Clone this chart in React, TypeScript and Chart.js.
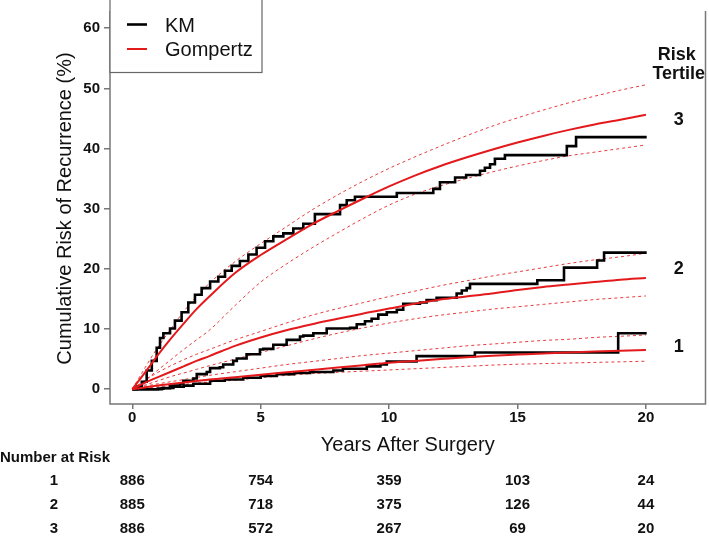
import React, { useEffect, useRef } from 'react';
import { Chart, registerables } from 'chart.js';

Chart.register(...registerables);

const FONT = '"Liberation Sans", Arial, Helvetica, sans-serif';
const RED = '#e3191c';
const RED_DASH = 'rgba(227,25,28,0.85)';
const AXIS = '#777777';

// Gompertz fit curves and 95% CI, read at these years
const fitYears = [0, 0.5, 1, 1.5, 2, 2.5, 3, 4, 5, 6, 7, 8, 9, 10, 11, 12, 13, 14, 15, 16, 17, 18, 19, 20];
const gompertz1 = [0, 0.3, 0.6, 0.85, 1.1, 1.35, 1.6, 2.0, 2.4, 2.8, 3.2, 3.6, 4.0, 4.4, 4.7, 5.0, 5.3, 5.55, 5.75, 5.95, 6.1, 6.25, 6.4, 6.5];
const upper1 = [0, 0.5, 0.9, 1.25, 1.6, 1.95, 2.3, 2.9, 3.5, 4.1, 4.6, 5.1, 5.6, 6.0, 6.4, 6.8, 7.2, 7.5, 7.8, 8.1, 8.3, 8.6, 8.8, 9.0];
const lower1 = [0, 0.2, 0.4, 0.6, 0.8, 1.0, 1.2, 1.5, 1.9, 2.3, 2.6, 2.8, 3.0, 3.2, 3.4, 3.6, 3.8, 4.0, 4.15, 4.25, 4.35, 4.45, 4.55, 4.65];
const gompertz2 = [0, 1.1, 2.0, 2.9, 3.8, 4.7, 5.5, 7.2, 8.6, 9.8, 10.8, 11.7, 12.6, 13.4, 14.2, 14.9, 15.4, 15.9, 16.5, 17.0, 17.4, 17.8, 18.2, 18.5];
const upper2 = [0, 1.5, 2.8, 3.9, 4.9, 5.8, 6.6, 8.2, 9.6, 11.0, 12.3, 13.4, 14.4, 15.4, 16.3, 17.2, 18.0, 18.8, 19.5, 20.2, 20.9, 21.5, 22.0, 22.6];
const lower2 = [0, 0.7, 1.4, 2.1, 2.7, 3.3, 3.9, 5.0, 6.1, 7.2, 8.3, 9.3, 10.2, 11.0, 11.7, 12.3, 12.8, 13.3, 13.7, 14.1, 14.5, 14.9, 15.2, 15.5];
const gompertz3 = [0, 2.8, 5.7, 8.4, 10.9, 13.3, 15.4, 19.3, 22.3, 24.9, 27.4, 29.6, 31.7, 33.7, 35.5, 37.1, 38.5, 39.8, 41.0, 42.1, 43.1, 44.0, 44.8, 45.6];
const upper3 = [0, 3.6, 7.0, 10.0, 12.9, 15.4, 17.6, 21.2, 24.2, 27.0, 29.8, 32.3, 34.6, 36.7, 38.6, 40.4, 42.1, 43.7, 45.1, 46.4, 47.6, 48.7, 49.7, 50.6];
const lower3 = [0, 1.5, 3.2, 4.9, 6.6, 8.2, 9.8, 13.9, 17.8, 20.8, 23.5, 26.0, 28.4, 30.6, 32.4, 33.8, 35.0, 36.1, 37.1, 38.0, 38.8, 39.4, 40.0, 40.6];

// Kaplan-Meier step curves (time of step, cumulative risk after step)
const kmTimes1 = [0, 1.15, 1.6, 2.0, 2.38, 3.03, 3.6, 4.32, 5.0, 5.62, 6.3, 6.92, 7.83, 8.2, 9.13, 9.66, 9.91, 11.07, 13.34, 18.92, 20.03];
const kmRisk1 = [0, 0.2, 0.4, 0.6, 0.9, 1.4, 1.6, 1.9, 2.2, 2.5, 2.7, 2.85, 3.1, 3.4, 3.8, 4.1, 4.6, 5.5, 6.1, 9.3, 9.3];
const kmTimes2 = [0, 1.0, 1.21, 1.47, 1.86, 1.99, 2.38, 2.51, 2.9, 3.03, 3.41, 3.54, 3.93, 4.07, 4.45, 4.97, 5.1, 5.49, 6.01, 6.53, 6.66, 7.05, 7.57, 8.48, 8.74, 9.06, 9.32, 9.58, 9.91, 10.3, 10.55, 11.2, 11.46, 11.85, 12.63, 12.83, 13.02, 13.15, 15.77, 16.81, 18.1, 18.37, 20.03];
const kmRisk2 = [0, 0.1, 0.17, 0.6, 0.97, 1.4, 1.77, 2.5, 2.85, 3.5, 3.65, 4.1, 4.7, 5.1, 5.8, 6.6, 6.7, 7.4, 8.2, 8.75, 8.9, 9.3, 10.1, 10.2, 10.8, 11.3, 11.7, 12.4, 12.8, 13.2, 14.2, 14.4, 14.8, 15.2, 15.9, 16.4, 16.8, 17.5, 18.1, 20.2, 21.4, 22.7, 22.7];
const kmTimes3 = [0, 0.17, 0.37, 0.56, 0.76, 0.95, 1.08, 1.21, 1.47, 1.66, 1.92, 2.18, 2.44, 2.7, 3.03, 3.35, 3.61, 3.87, 4.19, 4.52, 4.84, 5.17, 5.49, 5.88, 6.27, 6.66, 7.11, 8.09, 8.35, 8.67, 10.3, 11.72, 11.98, 12.57, 13.0, 13.54, 13.73, 13.93, 14.12, 14.51, 16.92, 17.28, 20.03];
const kmRisk3 = [0, 0.43, 1.24, 3.1, 4.7, 6.9, 8.5, 9.3, 10.1, 11.4, 12.8, 14.4, 15.7, 16.8, 17.9, 18.7, 19.7, 20.5, 21.3, 22.4, 23.5, 24.6, 25.4, 25.9, 26.7, 27.5, 29.1, 30.6, 31.4, 32.0, 32.6, 33.3, 34.4, 35.2, 35.6, 36.3, 36.8, 37.4, 38.3, 38.9, 40.4, 41.9, 41.9];

// Axis ticks
const xTicks = [0, 5, 10, 15, 20];
const yTicks = [0, 10, 20, 30, 40, 50, 60];

// Number at risk table
const riskTimes = [0, 5, 10, 15, 20];
const riskGroups = ['1', '2', '3'];
const atRisk1 = [886, 754, 359, 103, 24];
const atRisk2 = [885, 718, 375, 126, 44];
const atRisk3 = [886, 572, 267, 69, 20];
const atRiskRows = [atRisk1, atRisk2, atRisk3];

const legendLabels = ['KM', 'Gompertz'];
const tertileNames = ['1', '2', '3'];

const pts = (xs: number[], ys: number[]) => xs.map((x, i) => ({ x, y: ys[i] }));

const kmDs = (label: string, xs: number[], ys: number[]) => ({
  label,
  data: pts(xs, ys),
  borderColor: '#000000',
  borderWidth: 2.6,
  stepped: 'before' as const,
  pointRadius: 0,
  fill: false,
});
const fitDs = (label: string, ys: number[]) => ({
  label,
  data: pts(fitYears, ys),
  borderColor: RED,
  borderWidth: 2,
  pointRadius: 0,
  cubicInterpolationMode: 'monotone' as const,
  fill: false,
});
const ciDs = (label: string, ys: number[]) => ({
  label,
  data: pts(fitYears, ys),
  borderColor: RED_DASH,
  borderWidth: 1,
  borderDash: [3, 3],
  pointRadius: 0,
  cubicInterpolationMode: 'monotone' as const,
  fill: false,
});

const extras = {
  id: 'extras',
  afterDraw(chart: any) {
    const { ctx, chartArea } = chart;
    const xs = chart.scales.x;
    const ys = chart.scales.y;
    ctx.save();
    // frame
    ctx.strokeStyle = AXIS;
    ctx.lineWidth = 1.5;
    ctx.beginPath();
    ctx.moveTo(chartArea.left, chartArea.top - 2);
    ctx.lineTo(chartArea.left, chartArea.bottom);
    ctx.lineTo(chartArea.right, chartArea.bottom);
    ctx.lineTo(chartArea.right, chartArea.top - 2);
    ctx.stroke();

    // legend box
    const lx = chartArea.left;
    ctx.fillStyle = '#ffffff';
    ctx.fillRect(lx, -2, 152, 74.5);
    ctx.strokeStyle = '#666666';
    ctx.lineWidth = 1.2;
    ctx.strokeRect(lx, -2, 152, 74.5);
    ctx.lineWidth = 2.6;
    ctx.strokeStyle = '#000000';
    ctx.beginPath();
    ctx.moveTo(lx + 17, 24.5);
    ctx.lineTo(lx + 37, 24.5);
    ctx.stroke();
    ctx.lineWidth = 2;
    ctx.strokeStyle = RED;
    ctx.beginPath();
    ctx.moveTo(lx + 17, 49);
    ctx.lineTo(lx + 37, 49);
    ctx.stroke();
    ctx.fillStyle = '#111111';
    ctx.font = `20px ${FONT}`;
    ctx.textAlign = 'left';
    ctx.textBaseline = 'middle';
    ctx.fillText(legendLabels[0], lx + 55, 26);
    ctx.fillText(legendLabels[1], lx + 55, 50);

    // right-hand tertile labels
    ctx.font = `bold 18px ${FONT}`;
    ctx.fillStyle = '#111111';
    ctx.textAlign = 'center';
    const labX = xs.getPixelForValue(21.2);
    ctx.fillText('Risk', labX, ys.getPixelForValue(55.6));
    ctx.fillText('Tertile', labX + 2, ys.getPixelForValue(52.4));
    const ends = [gompertz1, gompertz2, gompertz3];
    const offs = [0.5, 1.4, -0.8];
    tertileNames.forEach((t, i) => {
      const arr = ends[i];
      ctx.fillText(t, labX + 2, ys.getPixelForValue(arr[arr.length - 1] + offs[i]));
    });

    // number at risk table
    ctx.font = `bold 15px ${FONT}`;
    ctx.textAlign = 'left';
    ctx.fillText('Number at Risk', 0, 458);
    ctx.textAlign = 'center';
    const rowY = [481, 505, 529];
    riskGroups.forEach((g, r) => {
      ctx.fillText(g, 54, rowY[r]);
      riskTimes.forEach((t, c) => {
        ctx.fillText(String(atRiskRows[r][c]), xs.getPixelForValue(t), rowY[r]);
      });
    });
    ctx.restore();
  },
};

export default function App() {
  const ref = useRef<HTMLCanvasElement | null>(null);
  useEffect(() => {
    if (!ref.current) return;
    const chart = new Chart(ref.current, {
      type: 'line',
      data: {
        datasets: [
          fitDs('Gompertz 3', gompertz3),
          fitDs('Gompertz 2', gompertz2),
          fitDs('Gompertz 1', gompertz1),
          kmDs('KM 3', kmTimes3, kmRisk3),
          kmDs('KM 2', kmTimes2, kmRisk2),
          kmDs('KM 1', kmTimes1, kmRisk1),
          ciDs('Upper 3', upper3),
          ciDs('Lower 3', lower3),
          ciDs('Upper 2', upper2),
          ciDs('Lower 2', lower2),
          ciDs('Upper 1', upper1),
          ciDs('Lower 1', lower1),
        ] as any,
      },
      options: {
        animation: false,
        responsive: false,
        layout: { padding: { left: 0, right: 3.5, top: 0, bottom: 0 } },
        plugins: { legend: { display: false }, tooltip: { enabled: false } },
        scales: {
          x: {
            type: 'linear',
            min: -0.868,
            max: 22.32,
            afterBuildTicks: (s: any) => {
              s.ticks = xTicks.map((v) => ({ value: v }));
            },
            afterFit: (s: any) => {
              s.height = 136;
            },
            grid: { drawOnChartArea: false, drawTicks: true, tickLength: 5, color: AXIS, lineWidth: 1.5 },
            border: { display: false },
            ticks: { font: { family: FONT, size: 15, weight: 'bold' }, color: '#111111', padding: 0, maxRotation: 0, autoSkip: false },
            title: {
              display: true,
              text: 'Years After Surgery',
              font: { family: FONT, size: 20 },
              color: '#111111',
              padding: { top: 0, bottom: 83 },
            },
          },
          y: {
            type: 'linear',
            min: -2.46,
            max: 62.53,
            afterBuildTicks: (s: any) => {
              s.ticks = yTicks.map((v) => ({ value: v }));
            },
            afterFit: (s: any) => {
              s.width = 110;
            },
            grid: { drawOnChartArea: false, drawTicks: true, tickLength: 6, color: AXIS, lineWidth: 1.5 },
            border: { display: false },
            ticks: { font: { family: FONT, size: 15, weight: 'bold' }, color: '#111111', padding: 4, autoSkip: false },
            title: {
              display: true,
              text: 'Cumulative Risk of Recurrence (%)',
              font: { family: FONT, size: 20 },
              color: '#111111',
              padding: { top: 53, bottom: 0 },
            },
          },
        },
      },
      plugins: [extras],
    });
    return () => chart.destroy();
  }, []);
  return (
    <div style={{ position: 'absolute', left: 0, top: 0, width: 709, height: 540, background: '#ffffff' }}>
      <canvas ref={ref} width={709} height={540} style={{ display: 'block' }} />
    </div>
  );
}
